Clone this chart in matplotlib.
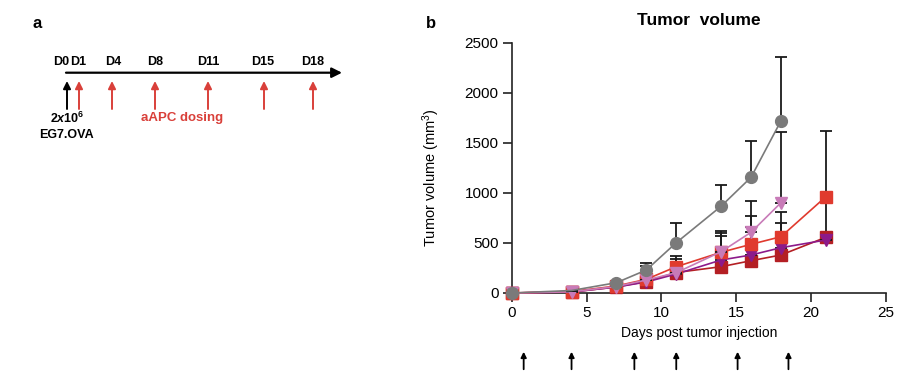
import numpy as np
import matplotlib
matplotlib.use("Agg")
import matplotlib.pyplot as plt

plt.rcParams['font.family'] = ['Liberation Sans', 'DejaVu Sans']
plt.rcParams['mathtext.fontset'] = 'custom'
plt.rcParams['mathtext.rm'] = 'Liberation Sans'
plt.rcParams['mathtext.it'] = 'Liberation Sans:italic'
plt.rcParams['mathtext.bf'] = 'Liberation Sans:bold'
plt.rcParams['mathtext.bfit'] = 'Liberation Sans:italic:bold'

# panel b data
days_grey = [0, 4, 7, 9, 11, 14, 16, 18]
grey_mean = [0, 25, 103, 230, 503, 868, 1157, 1722]
grey_err = [0, 0, 0, 73, 200, 212, 366, 636]

days_all = [0, 4, 7, 9, 11, 14, 16, 18, 21]
red_mean = [0, 15, 70, 137, 263, 407, 487, 563, 963]
red_err = [0, 0, 0, 133, 107, 213, 286, 244, 657]

darkred_mean = [0, 10, 60, 115, 205, 263, 323, 380, 557]
darkred_err = [0, 0, 0, 0, 132, 0, 0, 0, 400]

purple_mean = [0, 10, 60, 110, 190, 330, 380, 453, 530]
purple_err = [0, 0, 0, 0, 0, 243, 283, 244, 0]

days_pink = [0, 4, 7, 9, 11, 14, 16, 18]
pink_mean = [0, 12, 65, 130, 203, 413, 607, 903]
pink_err = [0, 0, 0, 0, 0, 184, 316, 704]

dosing_days = [0.8, 4.0, 8.2, 11.0, 15.1, 18.5]

# panel a timeline
tl_labels = ['D0', 'D1', 'D4', 'D8', 'D11', 'D15', 'D18']
tl_x = [61, 78, 113, 155, 208, 263, 313]
arrow_x = [67, 79, 112, 155, 208, 264, 313]

fig = plt.figure(figsize=(9.06, 3.85), dpi=100)

# overlay axes in pixel coords for panel a
ov = fig.add_axes([0, 0, 1, 1])
ov.set_xlim(0, 906)
ov.set_ylim(385, 0)
ov.axis('off')

ov.text(37, 23, 'a', fontsize=12, fontweight='bold', ha='center', va='center')
ov.text(431, 23, 'b', fontsize=12, fontweight='bold', ha='center', va='center')

ov.annotate('', xy=(342, 72.7), xytext=(66, 72.7),
            arrowprops=dict(arrowstyle='-|>', color='black', lw=1.6,
                            mutation_scale=15, shrinkA=0, shrinkB=0))
for lab, x in zip(tl_labels, tl_x):
    ov.text(x, 62, lab, fontsize=9, fontweight='bold', ha='center', va='center')
for i, x in enumerate(arrow_x):
    c = 'black' if i == 0 else '#d9403a'
    ov.annotate('', xy=(x, 81), xytext=(x, 109),
                arrowprops=dict(arrowstyle='-|>', color=c, lw=1.4,
                                mutation_scale=11, shrinkA=0, shrinkB=0))
ov.text(67, 118, r'$\mathbf{2}\mathbfit{x}\mathbf{10^{6}}$', fontsize=9,
        ha='center', va='center')
ov.text(66, 135, 'EG7.OVA', fontsize=9, fontweight='bold', ha='center', va='center')
ov.text(182, 118, 'aAPC dosing', fontsize=9.5, fontweight='bold', color='#d9403a',
        ha='center', va='center')

# panel b
ax = fig.add_axes([511.7 / 906, 1 - 293 / 385, 374 / 906, 250 / 385])

eb = dict(capsize=4, elinewidth=1.3, capthick=1.3, ecolor='#1a1a1a', lw=1.2)

def draw(x, m, e, color, marker, ms, z, every=None):
    ax.errorbar(x, m, yerr=[np.zeros(len(e)), e], color=color, marker=marker,
                markersize=ms, zorder=z, clip_on=False, markevery=every, **eb)

draw(days_all, darkred_mean, darkred_err, '#b41f24', 's', 8, 3)
draw(days_all, purple_mean, purple_err, '#8c1a8a', 'v', 8.5, 4)
draw(days_all, red_mean, red_err, '#e03a2e', 's', 8, 5)
draw(days_pink, pink_mean, pink_err, '#c87bb8', 'v', 8.5, 6)
# grey day-4 marker sits under the pink one in the original
draw(days_grey, grey_mean, grey_err, '#7a7a7a', 'o', 8.5, 7,
     every=[0, 2, 3, 4, 5, 6, 7])

ax.set_xlim(0, 25)
ax.set_ylim(0, 2500)
ax.set_xticks([0, 5, 10, 15, 20, 25])
ax.set_yticks([0, 500, 1000, 1500, 2000, 2500])
for s in ['top', 'right']:
    ax.spines[s].set_visible(False)
for s in ['left', 'bottom']:
    ax.spines[s].set_linewidth(1.2)
    ax.spines[s].set_color('#222222')
ax.tick_params(width=1.2, length=6.5, color='#222222', labelsize=11, pad=3)
ax.set_title('Tumor  volume', fontsize=12.5, fontweight='bold', pad=13)
ax.set_xlabel('Days post tumor injection', fontsize=10, labelpad=4)
ax.set_ylabel('Tumor volume (mm$^3$)', fontsize=10.5)
ax.yaxis.set_label_coords(-0.186, 0.46)

for d in dosing_days:
    ax.annotate('', xy=(d, -0.235), xytext=(d, -0.305),
                xycoords=('data', 'axes fraction'),
                arrowprops=dict(arrowstyle='-|>', color='black', lw=1.3,
                                mutation_scale=8, shrinkA=0, shrinkB=0),
                annotation_clip=False)

fig.savefig('out.png', dpi=100)
